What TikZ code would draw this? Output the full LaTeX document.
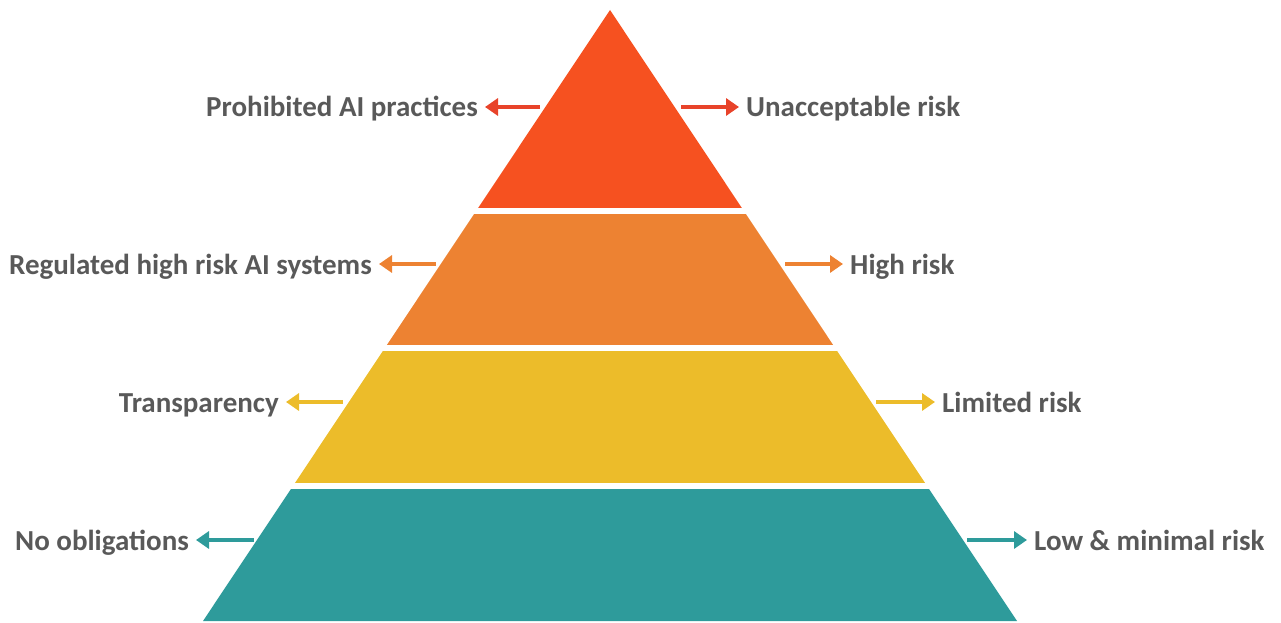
\documentclass[tikz,border=0pt]{standalone}
\usepackage{fontspec}
\setmainfont{Carlito}
\usetikzlibrary{arrows.meta}
\definecolor{tierred}{HTML}{F65120}
\definecolor{tierorange}{HTML}{ED8232}
\definecolor{tieryellow}{HTML}{ECBC2A}
\definecolor{tierteal}{HTML}{2E9B9B}
\definecolor{arrred}{HTML}{E8432A}
\definecolor{labelgray}{HTML}{595959}
\tikzset{
  lbl/.style={inner sep=0pt, font=\fontsize{29}{33}\selectfont\bfseries, text=labelgray},
  lblL/.style={lbl, anchor=base east},
  lblR/.style={lbl, anchor=base west},
  arr/.style={line width=3.3pt, -{Triangle[length=13pt,width=17pt]}, shorten >=7pt},
}
\begin{document}
\begin{tikzpicture}[x=1pt,y=-1pt]
\useasboundingbox (0,0) rectangle (1281,623);
% pyramid: one triangle cut into four tiers
\coordinate (apex) at (610,10);
\coordinate (baseL) at (203,621);
\coordinate (baseR) at (1017,621);
\begin{scope}
  \clip (apex) -- (baseL) -- (baseR) -- cycle;
  \fill[tierred]    (0,0)   rectangle (1281,208);
  \fill[tierorange] (0,214) rectangle (1281,345);
  \fill[tieryellow] (0,351) rectangle (1281,483);
  \fill[tierteal]   (0,489) rectangle (1281,623);
\end{scope}
% tier 1
\node[lblL] (prohib) at (478,117) {Prohibited AI practices};
\node[lblR] (unacc) at (746,117) {Unacceptable risk};
\coordinate (t1l) at (540,107);
\coordinate (t1r) at (681,107);
\draw[arr, arrred] (t1l) -- (t1l -| prohib.east);
\draw[arr, arrred] (t1r) -- (t1r -| unacc.west);
% tier 2
\node[lblL] (regul) at (372,274) {Regulated high risk AI systems};
\node[lblR] (high) at (850,274) {High risk};
\coordinate (t2l) at (436,264);
\coordinate (t2r) at (785,264);
\draw[arr, tierorange] (t2l) -- (t2l -| regul.east);
\draw[arr, tierorange] (t2r) -- (t2r -| high.west);
% tier 3
\node[lblL] (transp) at (279,412) {Transparency};
\node[lblR] (limited) at (942,412) {Limited risk};
\coordinate (t3l) at (343,402);
\coordinate (t3r) at (876,402);
\draw[arr, tieryellow] (t3l) -- (t3l -| transp.east);
\draw[arr, tieryellow] (t3r) -- (t3r -| limited.west);
% tier 4
\node[lblL] (noobl) at (189,550) {No obligations};
\node[lblR] (low) at (1034,550) {Low \& minimal risk};
\coordinate (t4l) at (254,540);
\coordinate (t4r) at (967,540);
\draw[arr, tierteal] (t4l) -- (t4l -| noobl.east);
\draw[arr, tierteal] (t4r) -- (t4r -| low.west);
\end{tikzpicture}
\end{document}
